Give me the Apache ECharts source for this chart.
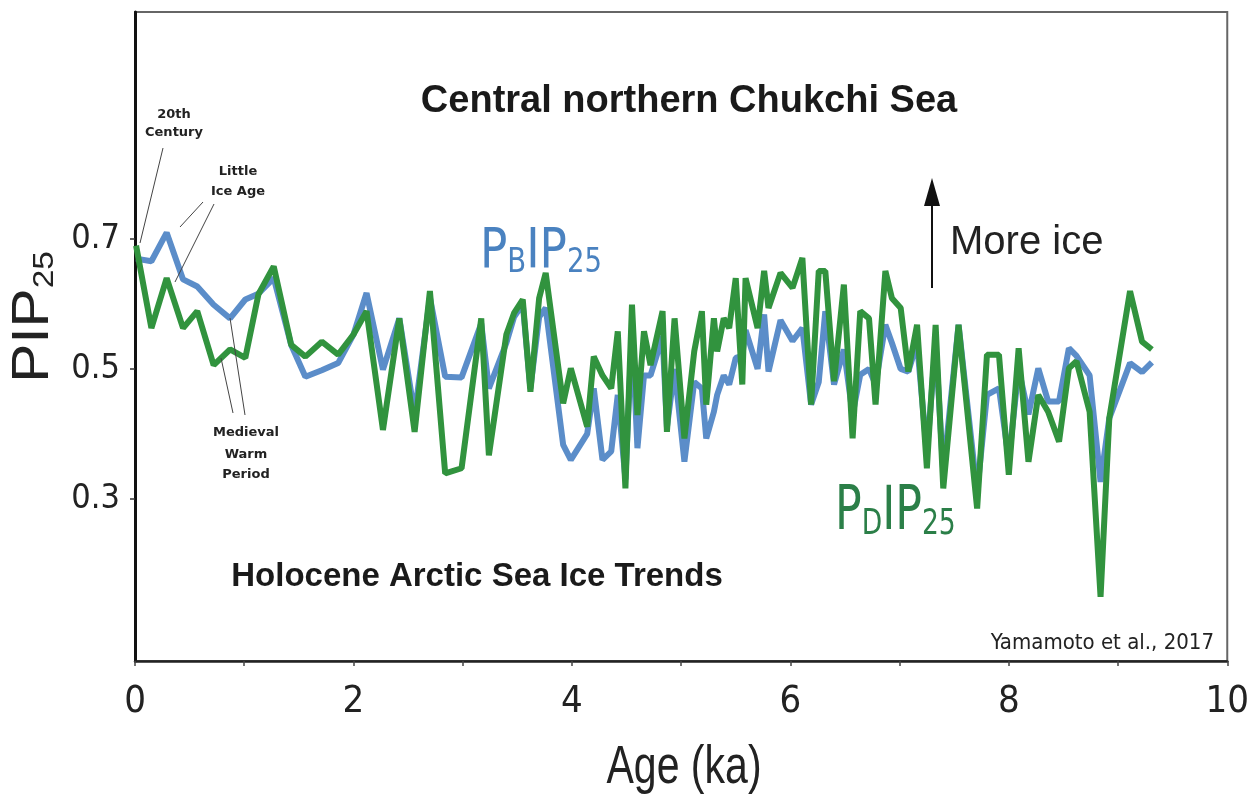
<!DOCTYPE html>
<html><head><meta charset="utf-8">
<script src="https://cdn.jsdelivr.net/npm/echarts@6/dist/echarts.min.js"></script>
<style>html,body{margin:0;padding:0;background:#fff}#c{width:1252px;height:812px}</style>
</head><body><div id="c"></div>
<script>
// Age (ka) of the samples
const ages = [
  0.01,0.15,0.29,0.44,0.57,0.72,0.87,1.01,1.13,1.27,
  1.43,1.56,1.71,1.86,2.00,2.12,2.27,2.42,2.56,2.70,
  2.84,2.99,3.17,3.24,3.40,3.47,3.55,3.62,3.70,3.76,
  3.92,3.99,4.14,4.20,4.28,4.36,4.42,4.49,4.55,4.60,
  4.66,4.72,4.83,4.87,4.94,5.03,5.12,5.19,5.23,5.30,
  5.33,5.39,5.44,5.50,5.56,5.59,5.70,5.76,5.80,5.91,
  6.02,6.11,6.19,6.26,6.32,6.40,6.49,6.57,6.64,6.72,
  6.78,6.87,6.93,7.01,7.08,7.16,7.25,7.33,7.40,7.54,
  7.71,7.80,7.91,8.00,8.09,8.18,8.27,8.36,8.46,8.55,
  8.62,8.74,8.84,8.92,9.11,9.22,9.31
];
// PBIP25 (blue)
const pbip = [
  0.670,0.666,0.710,0.638,0.627,0.599,0.578,0.607,0.616,0.640,
  0.537,0.488,0.498,0.509,0.553,0.617,0.499,0.578,0.430,0.610,
  0.488,0.487,0.570,0.470,0.540,0.580,0.600,0.470,0.580,0.594,
  0.383,0.360,0.400,0.470,0.360,0.373,0.460,0.330,0.560,0.378,
  0.490,0.490,0.550,0.410,0.500,0.357,0.480,0.470,0.393,0.434,
  0.460,0.490,0.476,0.517,0.520,0.560,0.500,0.584,0.496,0.575,
  0.543,0.563,0.445,0.480,0.589,0.476,0.530,0.430,0.491,0.500,
  0.476,0.568,0.540,0.500,0.496,0.540,0.370,0.540,0.340,0.568,
  0.310,0.460,0.470,0.360,0.500,0.430,0.501,0.450,0.450,0.532,
  0.520,0.490,0.326,0.424,0.509,0.495,0.510
];
// PDIP25 (green)
const pdip = [
  0.690,0.563,0.640,0.563,0.589,0.506,0.530,0.517,0.615,0.658,
  0.537,0.519,0.542,0.522,0.553,0.589,0.406,0.578,0.403,0.620,
  0.339,0.347,0.578,0.367,0.553,0.586,0.607,0.465,0.609,0.648,
  0.447,0.501,0.411,0.519,0.490,0.470,0.558,0.316,0.599,0.429,
  0.558,0.506,0.589,0.403,0.578,0.393,0.527,0.589,0.445,0.578,
  0.527,0.578,0.563,0.640,0.476,0.640,0.563,0.651,0.594,0.648,
  0.625,0.671,0.445,0.651,0.651,0.481,0.630,0.393,0.589,0.578,
  0.445,0.651,0.609,0.594,0.496,0.568,0.347,0.568,0.316,0.568,
  0.285,0.522,0.522,0.337,0.532,0.357,0.460,0.434,0.388,0.501,
  0.512,0.434,0.149,0.424,0.620,0.542,0.530
];
const xLabelValues = [0,2,4,6,8,10];
const yLabelValues = [0.3,0.5,0.7];

const COND = '"DejaVu Sans Condensed", "Liberation Sans Narrow", sans-serif';
const SANS = '"Liberation Sans", Arial, sans-serif';
const VERD = '"DejaVu Sans", Verdana, sans-serif';

const chart = echarts.init(document.getElementById('c'), null, {renderer: 'canvas'});

function lineEl(x1, y1, x2, y2, w, c) {
  return {type: 'line', shape: {x1, y1, x2, y2}, style: {stroke: c || '#333', lineWidth: w || 1}, z: 10};
}
function txt(x, y, text, font, fill, align, vAlign, extra) {
  return Object.assign({type: 'text', x, y, z: 10,
    style: {text, font, fill: fill || '#111', align: align || 'center', verticalAlign: vAlign || 'middle'}}, extra || {});
}

const option = {
  backgroundColor: '#fff',
  animation: false,
  grid: {left: 135, right: 22, top: 12, bottom: 151, show: true, borderColor: '#666', borderWidth: 2, backgroundColor: 'transparent'},
  xAxis: {
    type: 'value', min: 0, max: 10, interval: 1,
    axisLine: {show: true, onZero: false, lineStyle: {color: '#222', width: 2.5}},
    axisTick: {show: true, inside: false, length: 5, lineStyle: {color: '#444', width: 1.5}},
    axisLabel: {
      customValues: xLabelValues,
      formatter: v => String(v),
      fontFamily: COND, fontSize: 38, color: '#222', margin: 22
    },
    splitLine: {show: false}
  },
  yAxis: {
    type: 'value', min: 0.05, max: 1.05,
    axisLine: {show: true, onZero: false, lineStyle: {color: '#111', width: 3}},
    axisTick: {show: true, customValues: yLabelValues, length: 5, lineStyle: {color: '#333', width: 1.5}},
    axisLabel: {
      customValues: yLabelValues,
      formatter: v => v.toFixed(1),
      fontFamily: COND, fontSize: 34, color: '#222', margin: 15
    },
    splitLine: {show: false}
  },
  series: [
    {
      name: 'PBIP25', type: 'line', showSymbol: false, symbol: 'none',
      data: ages.map((a, i) => [a, pbip[i]]),
      lineStyle: {color: '#5b8dc9', width: 6}, z: 2
    },
    {
      name: 'PDIP25', type: 'line', showSymbol: false, symbol: 'none',
      data: ages.map((a, i) => [a, pdip[i]]),
      lineStyle: {color: '#31933e', width: 6}, z: 3
    }
  ],
  graphic: [
    txt(689, 102, 'Central northern Chukchi Sea', 'bold 38px ' + SANS, '#1a1a1a'),
    txt(477, 577, 'Holocene Arctic Sea Ice Trends', 'bold 33px ' + SANS, '#1a1a1a'),
    txt(1214, 643, 'Yamamoto et al., 2017', '22px ' + COND, '#222', 'right'),
    txt(950, 243, 'More ice', '40px ' + SANS, '#222', 'left'),
    lineEl(932, 288, 932, 200, 2, '#111'),
    {type: 'polygon', shape: {points: [[932, 178], [924, 206], [940, 206]]}, style: {fill: '#111'}, z: 10},
    // P_B IP_25 label
    {type: 'text', x: 480, y: 250, scaleX: 0.9, z: 10, style: {
      text: '{a|P}{b|B}{a|IP}{b|25}', fill: '#4a82c0', align: 'left', verticalAlign: 'middle',
      rich: {
        a: {fontFamily: COND, fontSize: 56, lineHeight: 60, verticalAlign: 'bottom'},
        b: {fontFamily: COND, fontSize: 34, lineHeight: 38, verticalAlign: 'bottom'}
      }}},
    // P_D IP_25 label
    {type: 'text', x: 835, y: 511, scaleX: 0.82, z: 10, style: {
      text: '{a|P}{b|D}{a|IP}{b|25}', fill: '#2b7f48', align: 'left', verticalAlign: 'middle',
      rich: {
        a: {fontFamily: COND, fontSize: 60, lineHeight: 64, verticalAlign: 'bottom'},
        b: {fontFamily: COND, fontSize: 36, lineHeight: 40, verticalAlign: 'bottom'}
      }}},
    // y axis name PIP25
    {type: 'text', x: 31, y: 317, rotation: Math.PI / 2, scaleX: 1.15, z: 10, style: {
      text: '{a|PIP}{b|25}', fill: '#222', align: 'center', verticalAlign: 'middle',
      rich: {
        a: {fontFamily: SANS, fontSize: 51, lineHeight: 56, verticalAlign: 'bottom'},
        b: {fontFamily: SANS, fontSize: 29, lineHeight: 33, verticalAlign: 'bottom'}
      }}},
    // x axis name
    txt(684, 768, 'Age (ka)', '54px ' + SANS, '#222', 'center', 'middle', {scaleX: 0.76}),
    // annotations
    txt(174, 115, '20th', 'bold 13px ' + VERD, '#222'),
    txt(174, 133, 'Century', 'bold 13px ' + VERD, '#222'),
    lineEl(163, 148, 140, 243, 1, '#444'),
    txt(238, 172, 'Little', 'bold 13px ' + VERD, '#222'),
    txt(238, 192, 'Ice Age', 'bold 13px ' + VERD, '#222'),
    lineEl(203, 202, 180, 227, 1, '#444'),
    lineEl(214, 204, 175, 282, 1, '#444'),
    txt(246, 433, 'Medieval', 'bold 13px ' + VERD, '#222'),
    txt(246, 455, 'Warm', 'bold 13px ' + VERD, '#222'),
    txt(246, 475, 'Period', 'bold 13px ' + VERD, '#222'),
    lineEl(233, 413, 221, 358, 1, '#444'),
    lineEl(245, 415, 230, 318, 1, '#444')
  ]
};
chart.setOption(option);
</script>
</body></html>
